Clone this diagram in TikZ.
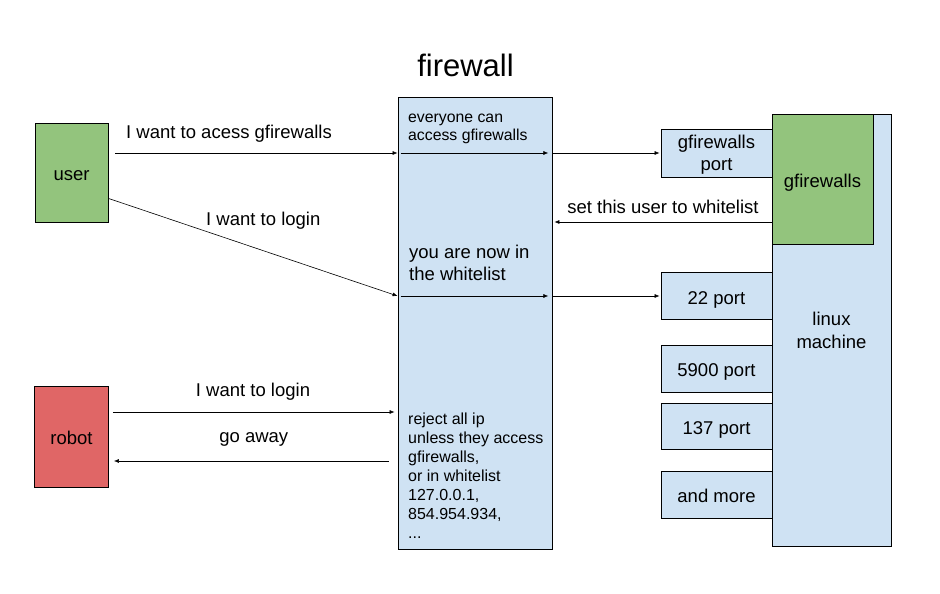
\documentclass[tikz,border=0pt]{standalone}
\usepackage{fontspec}
\setmainfont{Liberation Sans}
\usetikzlibrary{arrows.meta}
\definecolor{usergreen}{HTML}{93C47D}
\definecolor{robotred}{HTML}{E06666}
\definecolor{paleblue}{HTML}{CFE2F3}

\begin{document}
\begin{tikzpicture}
  [x=1pt,y=-1pt,
   box/.style={rectangle, draw, line width=0.8pt, inner sep=0pt, align=center, text depth=0pt, font=\fontsize{18.5}{21.5}\selectfont},
   single/.style={box, text height=16pt},
   port/.style={single, fill=paleblue, minimum width=111pt},
   lbl/.style={anchor=base, inner sep=0pt, font=\fontsize{18.5}{22}\selectfont},
   note/.style={anchor=base west, inner sep=0pt, align=left},
   arr/.style={-{Latex[length=5pt,width=4pt]}, line width=0.6pt}]
  \useasboundingbox (0,0) rectangle (940,594);

  % title
  \node [lbl, font=\fontsize{31}{36}\selectfont] (title) at (465.5,76.7) {firewall};

  % left side
  \node [single, fill=usergreen, minimum width=73pt, minimum height=99pt] (user) at (71.5,172.5) {user};
  \node [single, fill=robotred, minimum width=74pt, minimum height=101pt] (robot) at (71.5,436.5) {robot};

  % firewall (base of a note is its last line)
  \node [box, fill=paleblue, minimum width=154pt, minimum height=452pt] (fw) at (475,323) {};
  \node [note, font=\fontsize{15.8}{18}\selectfont] (everyone) at (408,140) {everyone can\\access gfirewalls};
  \node [note, font=\fontsize{18.5}{22.7}\selectfont] (whitelisted) at (409,280.7) {you are now in\\the whitelist};
  \node [note, font=\fontsize{16}{19}\selectfont] (reject) at (408,538)
    {reject all ip\\unless they access\\gfirewalls,\\or in whitelist\\127.0.0.1,\\854.954.934,\\...};

  % linux machine
  \node [box, fill=paleblue, minimum width=119pt, minimum height=432pt, font=\fontsize{18.5}{22.5}\selectfont] (linux) at (831.5,330.5) {linux\\machine};
  \node [single, fill=usergreen, minimum width=101pt, minimum height=130pt] (gf) at (822.5,179) {gfirewalls};
  \node [box, fill=paleblue, minimum width=111pt, minimum height=48pt] (gfport) at (716.5,153) {gfirewalls\\port};
  \node [port, minimum height=47pt] (p22) at (716.5,296) {22 port};
  \node [port, minimum height=47pt] (p5900) at (716.5,368.5) {5900 port};
  \node [port, minimum height=46pt] (p137) at (716.5,426) {137 port};
  \node [port, minimum height=47pt] (pmore) at (716.5,494.5) {and more};

  % user access
  \draw [arr] ([xshift=7pt]user.east |- 0,153) -- (fw.west |- 0,153);
  \draw [arr] ([xshift=3pt]fw.west |- 0,153) -- ([xshift=-4pt]fw.east |- 0,153);
  \draw [arr] ([xshift=1pt]fw.east |- 0,153) -- ([xshift=-1pt]gfport.west);
  \node [lbl] (access) at (229,138.3) {I want to acess gfirewalls};
  \draw [arr] (gf.west |- 0,222) -- ([xshift=2pt]fw.east |- 0,222);
  \node [lbl] (setwhite) at (663,213) {set this user to whitelist};

  % user login
  \draw [arr] ([yshift=24pt]user.south east) -- (fw.west |- 0,296);
  \draw [arr] ([xshift=3pt]fw.west |- 0,296) -- ([xshift=-4pt]fw.east |- 0,296);
  \draw [arr] ([xshift=1pt]fw.east |- 0,296) -- ([xshift=-1pt]p22.west);
  \node [lbl] (login) at (263.3,225) {I want to login};

  % robot
  \draw [arr] ([xshift=4pt]robot.east |- 0,412) -- ([xshift=-3pt]fw.west |- 0,412);
  \node [lbl] (rlogin) at (253,396.7) {I want to login};
  \draw [arr] ([xshift=-9pt]fw.west |- 0,461) -- ([xshift=5pt]robot.east |- 0,461);
  \node [lbl] (goaway) at (253.8,442.7) {go away};
\end{tikzpicture}
\end{document}
